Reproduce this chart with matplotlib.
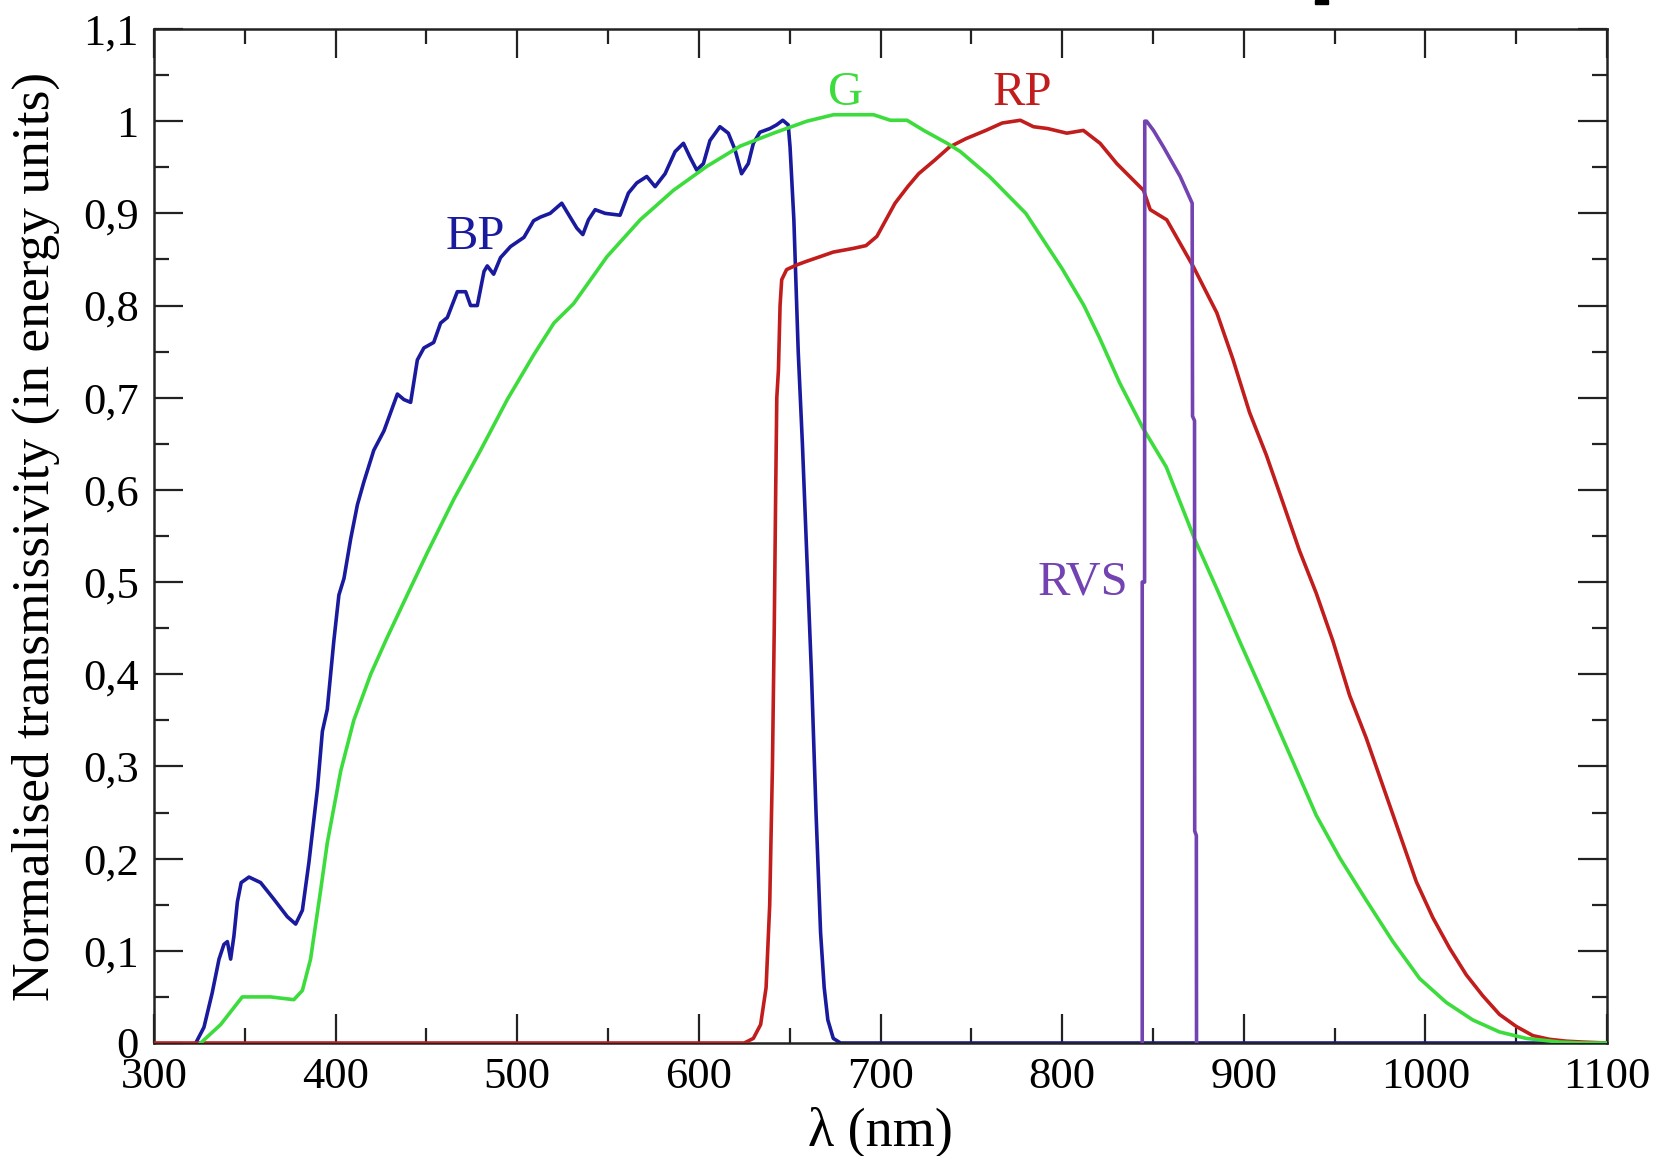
import matplotlib
matplotlib.use("Agg")
import matplotlib.pyplot as plt
from matplotlib.patches import Rectangle

plt.rcParams['font.family'] = ['Liberation Serif', 'DejaVu Serif']

# ---------------- data ----------------
bp_wl = [323, 327.5, 332, 335.8, 338.5, 340.4, 342.2, 344, 345.9, 348, 352.3, 358.7, 366,
         373.4, 378, 381.7, 385.3, 390, 392.7, 395.4, 399, 401.8, 404.6, 408.3, 412, 415.6,
         421, 426.6, 434, 437.6, 441.3, 445, 448.6, 454, 457.8, 461.5, 467, 471.6, 474.3,
         478, 481.7, 483.5, 487, 490.8, 496.3, 503.7, 509, 512.8, 518.1, 524.5, 529.1,
         532.8, 536.1, 539.2, 542.9, 548.4, 556.6, 561.2, 565.8, 571.3, 575.9, 581.4,
         586.9, 591.5, 595.1, 598.8, 602.5, 606.1, 611.6, 616.2, 619.9, 623.5, 627.2, 630,
         633.6, 639.1, 642.8, 646.2, 649.2, 650.2, 652.3, 654.7, 657, 660, 662, 664.5, 667,
         669, 671, 674, 678, 1100]
bp_val = [0, 0.017, 0.054, 0.091, 0.107, 0.11, 0.091, 0.116, 0.153, 0.174, 0.18, 0.174, 0.156,
          0.137, 0.129, 0.144, 0.196, 0.276, 0.338, 0.362, 0.436, 0.486, 0.504, 0.547, 0.584,
          0.609, 0.643, 0.664, 0.704, 0.698, 0.695, 0.741, 0.754, 0.76, 0.781, 0.787, 0.815,
          0.815, 0.80, 0.80, 0.837, 0.843, 0.834, 0.852, 0.864, 0.874, 0.892, 0.896, 0.900,
          0.911, 0.896, 0.884, 0.877, 0.893, 0.904, 0.900, 0.898, 0.922, 0.933, 0.940, 0.929,
          0.943, 0.967, 0.976, 0.961, 0.947, 0.954, 0.979, 0.994, 0.987, 0.969, 0.943, 0.954,
          0.976, 0.988, 0.992, 0.996, 1.001, 0.996, 0.972, 0.893, 0.75, 0.65, 0.5, 0.4, 0.25,
          0.12, 0.06, 0.025, 0.005, 0, 0]

g_wl = [325.7, 336.7, 348.6, 364.2, 377, 381.7, 386.2, 391.7, 395.4, 402.8, 410, 419.3, 428.4,
        439.4, 450.5, 465.1, 479.8, 494.5, 509.2, 520.2, 531, 549.4, 567.7, 586, 604.4, 622.8,
        641.1, 659.5, 674.2, 696.2, 705.4, 714.6, 723.8, 736.7, 744, 760, 780, 800, 812,
        820.6, 831.7, 844.5, 857.3, 872.9, 884.9, 897.7, 912.4, 927.1, 939.9, 952.8, 967.4,
        982.1, 996.8, 1011.5, 1026.1, 1040.8, 1055.5, 1073.9, 1086.7, 1100]
g_val = [0, 0.02, 0.05, 0.05, 0.047, 0.057, 0.091, 0.165, 0.217, 0.295, 0.35, 0.40, 0.44,
         0.486, 0.532, 0.59, 0.643, 0.698, 0.747, 0.781, 0.802, 0.853, 0.893, 0.925, 0.951,
         0.973, 0.987, 1.0, 1.007, 1.007, 1.001, 1.001, 0.99, 0.976, 0.967, 0.94, 0.9, 0.84,
         0.80, 0.765, 0.716, 0.667, 0.625, 0.547, 0.494, 0.436, 0.371, 0.305, 0.247, 0.201,
         0.155, 0.11, 0.07, 0.044, 0.025, 0.012, 0.005, 0.001, 0, 0]

rp_wl = [300, 625, 630, 634, 637, 639, 640.5, 641.5, 642.3, 642.9, 643.8, 644.7, 645.6, 648.3,
         653.8, 659.3, 666.7, 674, 685, 692, 698, 703, 708, 715, 721, 730, 738, 747,
         758, 767, 777, 784.2, 792, 802.6, 811.7, 820.9, 830.1, 844.8, 848.5, 857.6,
         872.3, 885.2, 894, 903.2, 912.4, 921.6, 930.7, 939.9, 949.1, 958.3, 967.4, 976.6,
         985.8, 995, 1004.1, 1013.3, 1022.5, 1031.7, 1040.8, 1050, 1059.2, 1068.3, 1077.5,
         1086.7, 1100]
rp_val = [0, 0, 0.005, 0.02, 0.06, 0.15, 0.3, 0.45, 0.6, 0.7, 0.73, 0.80, 0.828, 0.839,
          0.844, 0.848, 0.853, 0.858, 0.862, 0.865, 0.875, 0.893, 0.911, 0.929, 0.943, 0.958,
          0.972, 0.981, 0.99, 0.998, 1.001, 0.994, 0.992, 0.987, 0.99, 0.976, 0.954, 0.925,
          0.904, 0.893, 0.842, 0.792, 0.742, 0.684, 0.638, 0.586, 0.534, 0.488, 0.436, 0.377,
          0.331, 0.279, 0.227, 0.175, 0.136, 0.103, 0.074, 0.051, 0.031, 0.018, 0.008, 0.004,
          0.002, 0.001, 0]

rvs_wl = [844.1, 844.1, 845.4, 845.5, 846.5, 850.3, 855.8, 865, 871.6, 871.8, 872.9, 873.0,
          873.9, 874.0]
rvs_val = [0, 0.5, 0.5, 1.0, 1.0, 0.99, 0.972, 0.94, 0.911, 0.68, 0.675, 0.23, 0.225, 0]

x_ticks = [300, 400, 500, 600, 700, 800, 900, 1000, 1100]
x_tick_labels = ["300", "400", "500", "600", "700", "800", "900", "1000", "1100"]
y_ticks = [0, 0.1, 0.2, 0.3, 0.4, 0.5, 0.6, 0.7, 0.8, 0.9, 1.0, 1.1]
y_tick_labels = ["0", "0,1", "0,2", "0,3", "0,4", "0,5", "0,6", "0,7", "0,8", "0,9", "1", "1,1"]

labels = ["BP", "G", "RP", "RVS"]
label_x = [476.8, 681, 778, 811.6]
label_y = [0.874, 1.031, 1.031, 0.50]

# ---------------- styles ----------------
c_bp = '#1a1a9e'
c_g = '#3ddc3d'
c_rp = '#c21d1d'
c_rvs = '#7443b2'
colors = [c_bp, c_g, c_rp, c_rvs]

fig = plt.figure(figsize=(16.75, 11.56), dpi=100)
ax = fig.add_axes([154 / 1675, (1156 - 1043) / 1156, (1607 - 154) / 1675, (1043 - 29) / 1156])

lw = 2.6
ax.plot(rp_wl, rp_val, color=c_rp, lw=lw, zorder=3)
ax.plot(bp_wl, bp_val, color=c_bp, lw=lw, zorder=2)
ax.plot(g_wl, g_val, color=c_g, lw=lw, zorder=4)
ax.plot(rvs_wl, rvs_val, color=c_rvs, lw=lw, zorder=5)

for t, x, y, c in zip(labels, label_x, label_y, colors):
    ax.text(x, y, t, color=c, fontsize=35, ha='center', va='center', zorder=6)

ax.set_xlim(300, 1100)
ax.set_ylim(0, 1.1)
ax.set_xticks(x_ticks)
ax.set_xticklabels(x_tick_labels)
ax.set_yticks(y_ticks)
ax.set_yticklabels(y_tick_labels)
ax.set_xticks([350, 450, 550, 650, 750, 850, 950, 1050], minor=True)
ax.set_yticks([0.05 + 0.1 * i for i in range(11)], minor=True)

ax.tick_params(which='both', direction='in', top=True, right=True, width=1.6,
               labelsize=32, color='#222222')
ax.tick_params(which='major', length=21)
ax.tick_params(which='minor', length=11)
ax.tick_params(axis='x', pad=10)
ax.tick_params(axis='y', pad=11)
for s in ax.spines.values():
    s.set_linewidth(1.8)
    s.set_color('#222222')

ax.set_xlabel('λ (nm)', fontsize=39, va='center')
ax.xaxis.set_label_coords(0.5, -(1132 - 1043) / 1014)
ax.set_ylabel('Normalised transmissivity (in energy units)', fontsize=38.5, va='center')
ax.yaxis.set_label_coords(-(154 - 36) / 1453, 0.5)

fig.patches.append(Rectangle((1315 / 1675, 1 - 4 / 1156), 13 / 1675, 4 / 1156,
                             transform=fig.transFigure, color='black', zorder=10))

fig.savefig('out.png', dpi=100, facecolor='white')
